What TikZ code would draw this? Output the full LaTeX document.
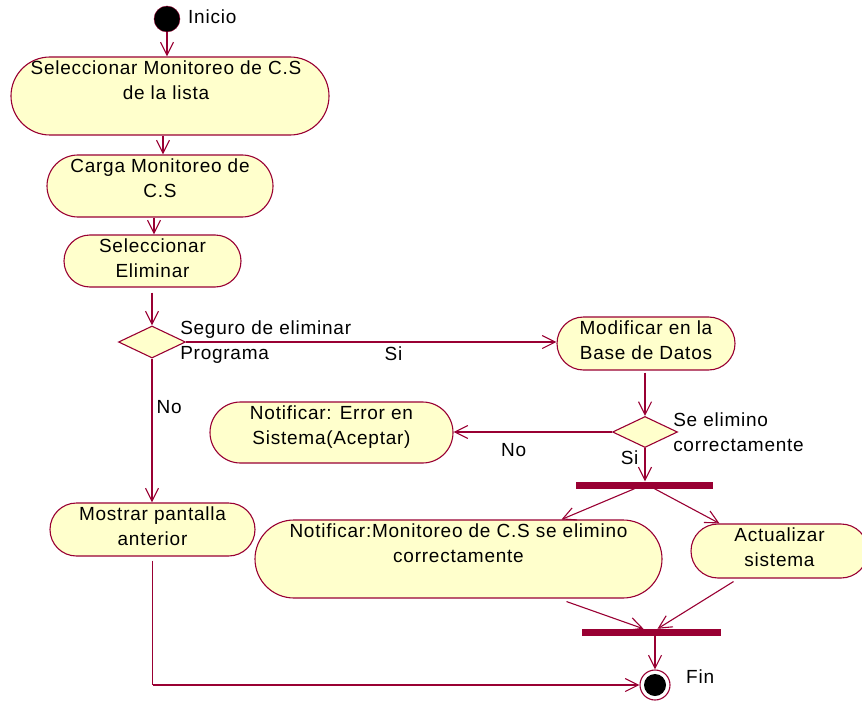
\documentclass[tikz,border=0pt]{standalone}
\usepackage{fontspec}
\setmainfont[LetterSpace=4]{Liberation Sans}
\usetikzlibrary{shapes.geometric, shapes.misc, arrows.meta, positioning, calc}
\definecolor{rosered}{RGB}{153,0,51}
\definecolor{roseyellow}{RGB}{255,255,204}
\tikzset{
  activity/.style={rounded rectangle, draw=rosered, fill=roseyellow,
    line width=1.1pt, inner sep=0pt},
  acttext/.style={anchor=north, align=center, inner sep=0pt, yshift=-4pt,
    text=black, font=\fontsize{19}{25}\selectfont},
  decision/.style={diamond, draw=rosered, fill=roseyellow,
    line width=1.1pt, inner sep=0pt},
  syncbar/.style={rectangle, fill=rosered, inner sep=0pt, minimum height=7pt},
  flow/.style={-{Straight Barb[length=13pt, width=13pt]}, line width=1.1pt, color=rosered},
  line/.style={line width=1.1pt, color=rosered},
  lbl/.style={inner sep=0pt, align=left, text=black, font=\fontsize{19}{25}\selectfont}
}
\begin{document}
\begin{tikzpicture}[x=1pt, y=-1pt]
  \useasboundingbox (0,0) rectangle (862,706);

  % Initial state
  \node[circle, draw=rosered, fill=black, minimum size=26pt, inner sep=0pt] (inicio) at (167,19) {};
  \node[lbl, anchor=west] (inicioLbl) at (188,17) {Inicio};

  % Activities, left column
  \node[activity, minimum width=318pt, minimum height=78pt] (selMon) at (170,96) {};
  \node[acttext] (selMonTxt) at ([xshift=-4pt]selMon.north) {Seleccionar Monitoreo de C.S\\de la lista};
  \node[activity, minimum width=226pt, minimum height=62pt] (carga) at (160,186) {};
  \node[acttext] (cargaTxt) at (carga.north) {Carga Monitoreo de\\C.S};
  \node[activity, minimum width=177pt, minimum height=52pt] (selElim) at (152.5,261) {};
  \node[acttext] (selElimTxt) at (selElim.north) {Seleccionar\\Eliminar};

  % First decision
  \node[decision, minimum width=67pt, minimum height=32pt] (seguro) at (152,342) {};
  \node[lbl, anchor=west] (seguroLbl) at ([xshift=-6pt]seguro.east) {Seguro de eliminar\\Programa};

  \node[activity, minimum width=178pt, minimum height=53pt] (modif) at (646,343.5) {};
  \node[acttext] (modifTxt) at (modif.north) {Modificar en la\\Base de Datos};
  \node[activity, minimum width=205pt, minimum height=53pt] (mostrar) at (152.5,529.5) {};
  \node[acttext] (mostrarTxt) at (mostrar.north) {Mostrar pantalla\\anterior};

  % Second decision
  \node[decision, minimum width=65pt, minimum height=31pt] (elimino) at (645,432) {};
  \node[lbl, anchor=west] (eliminoLbl) at ([xshift=-5pt]elimino.east) {Se elimino\\correctamente};
  \node[activity, minimum width=243pt, minimum height=61pt] (error) at (331.5,432.5) {};
  \node[acttext] (errorTxt) at (error.north) {Notificar: Error en\\Sistema(Aceptar)};

  % Fork and join
  \node[syncbar, minimum width=137pt] (fork) at (644.5,485) {};
  \node[activity, minimum width=407pt, minimum height=78pt] (notif) at (458.5,559) {};
  \node[acttext] (notifTxt) at (notif.north) {Notificar:Monitoreo de C.S se elimino\\correctamente};
  \node[activity, minimum width=177pt, minimum height=54pt] (actual) at (779.5,551) {};
  \node[acttext] (actualTxt) at (actual.north) {Actualizar\\sistema};
  \node[syncbar, minimum width=139pt] (join) at (651.5,632.5) {};

  % Final state
  \node[circle, draw=rosered, fill=white, line width=1.1pt, minimum size=30pt, inner sep=0pt] (fin) at (655,685) {};
  \node[circle, fill=black, minimum size=22pt, inner sep=0pt] (finDot) at (fin) {};
  \node[lbl, anchor=west] (finLbl) at (686,677) {Fin};

  % Transitions
  \draw[flow] (inicio.south) -- (inicio.south |- selMon.north);
  \draw[flow] ([xshift=3pt]carga.north |- selMon.south) -- ([xshift=3pt]carga.north);
  \draw[flow] ([xshift=1.5pt]selElim.north |- carga.south) -- ([xshift=1.5pt]selElim.north);
  \draw[flow, shorten <=5pt] (seguro.north |- selElim.south) -- (seguro.north);
  \draw[flow] (seguro.east) -- (seguro.east -| modif.west)
    node[lbl, pos=0.56, below=4pt] (siA) {Si};
  \draw[flow] (seguro.south) -- (seguro.south |- mostrar.north)
    node[lbl, pos=0.34, right=4pt] (noA) {No};
  \draw[flow, shorten <=2pt] (elimino.north |- modif.south) -- (elimino.north);
  \draw[flow] (elimino.west) -- (elimino.west -| error.east)
    node[lbl, pos=0.62, below=11pt] (noB) {No};
  \draw[flow] (elimino.south) -- (elimino.south |- fork.north)
    node[lbl, pos=0.3, left=6pt] (siB) {Si};
  \draw[flow] ([xshift=-10pt]fork.south) -- ([xshift=103pt]notif.north);
  \draw[flow] ([xshift=10pt]fork.south) -- ([xshift=-60pt]actual.north);
  \draw[flow] ([xshift=108pt, yshift=-3pt]notif.south) -- ([xshift=-8pt]join.north);
  \draw[flow] ([xshift=-46pt, yshift=-3pt]actual.south) -- ([xshift=6pt]join.north);
  \draw[flow] (fin.north |- join.south) -- (fin.north);
  \draw[line] ([yshift=-4pt]mostrar.south) -- (mostrar.south |- fin.west);
  \draw[flow] (mostrar.south |- fin.west) -- (fin.west);
\end{tikzpicture}
\end{document}
